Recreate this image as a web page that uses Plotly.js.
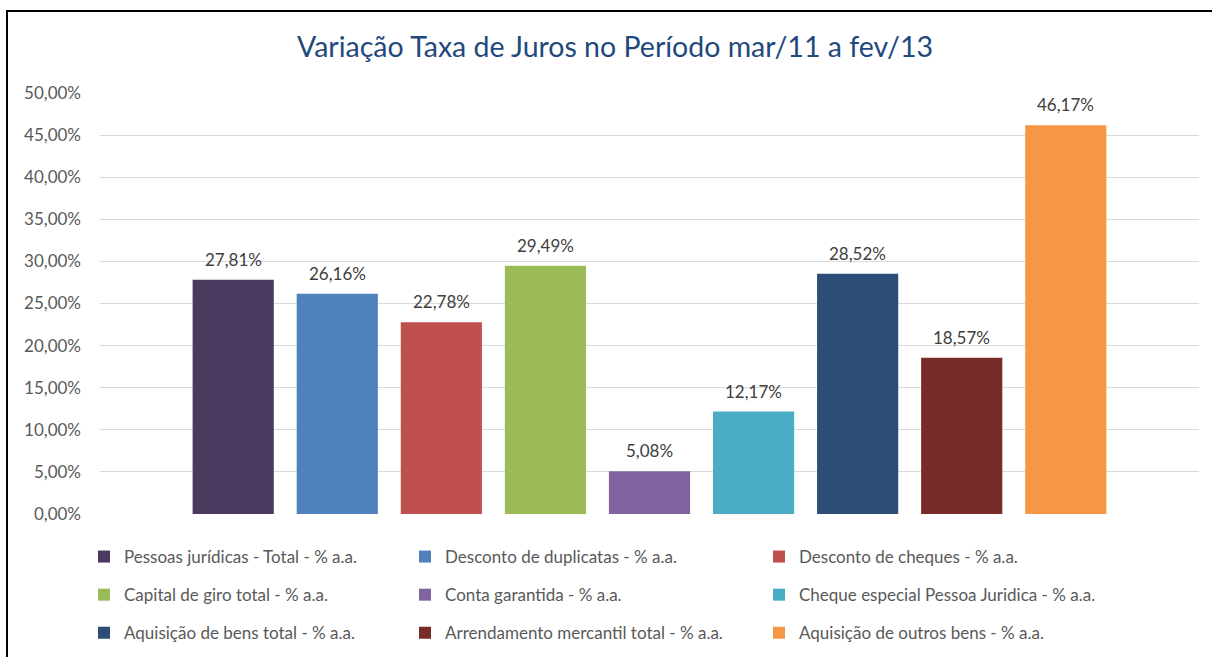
<!DOCTYPE html>
<html>
<head>
<meta charset="utf-8">
<script src="https://cdn.plot.ly/plotly-3.0.1.min.js"></script>
<style>
  html, body { margin: 0; padding: 0; background: #fff; }
  #wrap { position: relative; width: 1212px; height: 657px; overflow: hidden; }
  #chart { width: 1212px; height: 657px; }
  #frame { position: absolute; left: 6px; top: 10px; width: 1300px; height: 800px;
           border-left: 2px solid #000; border-top: 2px solid #000; pointer-events: none; }
</style>
</head>
<body>
<div id="wrap"><div id="chart"></div><div id="frame"></div></div>
<script>
const chartTitle = "Variação Taxa de Juros no Período mar/11 a fev/13";
const categories = [
  "Pessoas jurídicas - Total - % a.a.",
  "Desconto de duplicatas - % a.a.",
  "Desconto de cheques - % a.a.",
  "Capital de giro total - % a.a.",
  "Conta garantida - % a.a.",
  "Cheque especial Pessoa Juridica - % a.a.",
  "Aquisição de bens total - % a.a.",
  "Arrendamento mercantil total - % a.a.",
  "Aquisição de outros bens - % a.a."
];
const values = [27.81, 26.16, 22.78, 29.49, 5.08, 12.17, 28.52, 18.57, 46.17];
const colors = ["#4B3A5F", "#4F81BD", "#C0504D", "#9BBB59", "#8064A2", "#4BACC6", "#2C4D75", "#772C2A", "#F79646"];
const yTicks = [0, 5, 10, 15, 20, 25, 30, 35, 40, 45, 50];

const FONT = "Lato, 'Open Sans', sans-serif";
const legendNames = ["legend", "legend2", "legend3"];
const fmt = v => v.toFixed(2).replace(".", ",") + "%";

const traces = categories.map((c, i) => ({
  type: "bar",
  name: c,
  x: [c],
  y: [values[i]],
  marker: { color: colors[i] },
  legend: legendNames[i % 3],
  legendgroup: "g" + i,
  hoverinfo: "none"
}));

const annotations = categories.map((c, i) => ({
  x: c, y: values[i], xref: "x", yref: "y",
  text: fmt(values[i]), showarrow: false,
  yanchor: "bottom", yshift: 8,
  font: { family: FONT, size: 17, color: "#404040" }
}));

const legendBase = {
  orientation: "v",
  xref: "container", yref: "container",
  xanchor: "left", yanchor: "top",
  y: 1 - 539 / 657,
  tracegroupgap: 13,
  font: { family: FONT, size: 17, color: "#595959" },
  bgcolor: "rgba(0,0,0,0)"
};

const layout = {
  width: 1212, height: 657,
  margin: { l: 100, r: 13, t: 93, b: 143, autoexpand: false },
  paper_bgcolor: "#ffffff",
  plot_bgcolor: "#ffffff",
  separators: ",.",
  barmode: "overlay",
  bargap: 0.22,
  title: {
    text: chartTitle,
    xref: "container", yref: "container",
    x: 615 / 1212, xanchor: "center",
    y: 1 - 47 / 657, yanchor: "middle",
    font: { family: FONT, size: 28.5, color: "#1F497D" }
  },
  xaxis: {
    type: "category",
    categoryorder: "array",
    categoryarray: categories,
    range: [-1.28, 9.28],
    showticklabels: false,
    showgrid: false,
    zeroline: false,
    showline: false,
    ticks: ""
  },
  yaxis: {
    range: [0, 50],
    tickmode: "array",
    tickvals: yTicks,
    ticktext: yTicks.map(fmt),
    showgrid: true,
    gridcolor: "#D9D9D9",
    gridwidth: 1,
    zeroline: false,
    showline: false,
    ticks: "",
    ticklabelstandoff: 18,
    tickfont: { family: FONT, size: 17, color: "#595959" }
  },
  showlegend: true,
  legend: Object.assign({}, legendBase, { x: 84 / 1212 }),
  legend2: Object.assign({}, legendBase, { x: 405 / 1212 }),
  legend3: Object.assign({}, legendBase, { x: 759 / 1212 }),
  annotations: annotations
};

Plotly.newPlot("chart", traces, layout, { displayModeBar: false, staticPlot: true });
</script>
</body>
</html>
